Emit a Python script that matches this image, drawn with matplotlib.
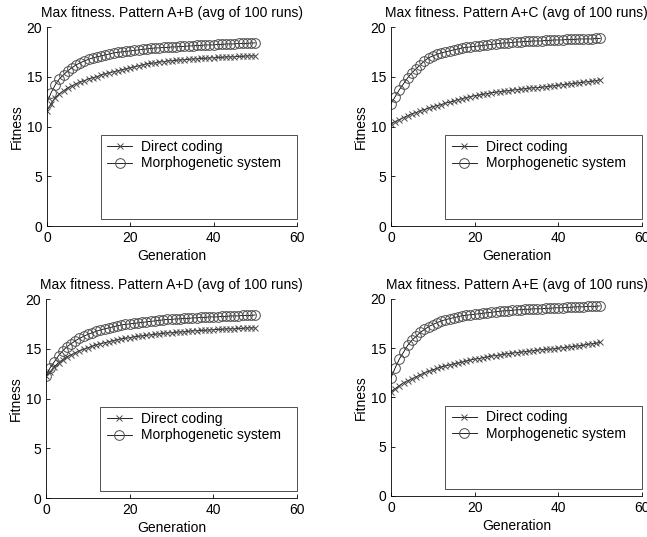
import numpy as np
import matplotlib
matplotlib.use('Agg')
import matplotlib.pyplot as plt
from matplotlib.patches import Rectangle

plt.rcParams['font.family'] = ['Liberation Sans', 'DejaVu Sans']

generations = list(range(51))

# Pattern A+B
ab_direct = [11.6, 12.3, 12.9, 13.3, 13.6, 13.9, 14.1, 14.3, 14.5, 14.6,
             14.8, 14.9, 15.0, 15.2, 15.3, 15.4, 15.5, 15.6, 15.7, 15.8,
             15.9, 16.0, 16.1, 16.2, 16.3, 16.35, 16.4, 16.5, 16.5, 16.6,
             16.6, 16.65, 16.7, 16.7, 16.75, 16.8, 16.8, 16.85, 16.85, 16.9,
             16.9, 16.95, 16.95, 17.0, 17.0, 17.0, 17.05, 17.05, 17.1, 17.1, 17.1]
ab_morph = [12.4, 13.4, 14.2, 14.8, 15.2, 15.6, 15.9, 16.2, 16.4, 16.6,
            16.75, 16.9, 17.0, 17.1, 17.2, 17.3, 17.4, 17.45, 17.5, 17.55,
            17.6, 17.65, 17.7, 17.75, 17.8, 17.85, 17.9, 17.9, 17.95, 17.95,
            18.0, 18.0, 18.05, 18.05, 18.1, 18.1, 18.15, 18.15, 18.2, 18.2,
            18.2, 18.25, 18.25, 18.3, 18.3, 18.3, 18.35, 18.35, 18.35, 18.4, 18.4]

# Pattern A+C
ac_direct = [10.3, 10.5, 10.7, 10.9, 11.1, 11.3, 11.4, 11.6, 11.7, 11.85,
             12.0, 12.1, 12.2, 12.35, 12.45, 12.55, 12.7, 12.8, 12.9, 13.0,
             13.1, 13.15, 13.25, 13.3, 13.4, 13.45, 13.5, 13.55, 13.6, 13.65,
             13.7, 13.75, 13.8, 13.85, 13.9, 13.9, 13.95, 14.0, 14.05, 14.1,
             14.15, 14.2, 14.25, 14.3, 14.35, 14.4, 14.45, 14.5, 14.55, 14.6, 14.7]
ac_morph = [12.3, 13.0, 13.7, 14.3, 14.9, 15.4, 15.8, 16.2, 16.6, 16.9,
            17.1, 17.25, 17.4, 17.5, 17.6, 17.7, 17.8, 17.9, 17.95, 18.0,
            18.05, 18.1, 18.15, 18.2, 18.25, 18.3, 18.35, 18.4, 18.4, 18.45,
            18.5, 18.5, 18.55, 18.55, 18.6, 18.6, 18.6, 18.65, 18.65, 18.7,
            18.7, 18.7, 18.75, 18.75, 18.75, 18.8, 18.8, 18.8, 18.8, 18.85, 18.85]

# Pattern A+D
ad_direct = [12.3, 12.7, 13.2, 13.6, 13.9, 14.2, 14.4, 14.6, 14.8, 14.95,
             15.1, 15.25, 15.4, 15.5, 15.6, 15.7, 15.8, 15.9, 16.0, 16.05,
             16.1, 16.2, 16.25, 16.3, 16.35, 16.4, 16.45, 16.5, 16.55, 16.6,
             16.6, 16.65, 16.7, 16.7, 16.75, 16.8, 16.8, 16.85, 16.85, 16.9,
             16.9, 16.95, 16.95, 17.0, 17.0, 17.0, 17.05, 17.05, 17.1, 17.1, 17.1]
ad_morph = [12.3, 13.1, 13.7, 14.3, 14.8, 15.2, 15.5, 15.8, 16.05, 16.25,
            16.45, 16.6, 16.75, 16.9, 17.0, 17.1, 17.2, 17.3, 17.4, 17.45,
            17.5, 17.55, 17.6, 17.65, 17.7, 17.75, 17.8, 17.85, 17.9, 17.95,
            17.95, 18.0, 18.0, 18.05, 18.05, 18.1, 18.1, 18.15, 18.15, 18.2,
            18.2, 18.2, 18.25, 18.25, 18.3, 18.3, 18.3, 18.35, 18.35, 18.35, 18.4]

# Pattern A+E
ae_direct = [10.6, 10.9, 11.2, 11.5, 11.7, 11.9, 12.1, 12.3, 12.5, 12.65,
             12.8, 12.95, 13.1, 13.2, 13.3, 13.4, 13.5, 13.6, 13.7, 13.8,
             13.9, 13.95, 14.05, 14.1, 14.2, 14.25, 14.3, 14.4, 14.45, 14.5,
             14.55, 14.6, 14.65, 14.7, 14.75, 14.8, 14.85, 14.9, 14.9, 14.95,
             15.0, 15.05, 15.1, 15.15, 15.2, 15.25, 15.3, 15.4, 15.45, 15.5, 15.6]
ae_morph = [12.0, 13.0, 13.9, 14.6, 15.3, 15.8, 16.2, 16.6, 16.9, 17.2,
            17.4, 17.6, 17.75, 17.9, 18.0, 18.1, 18.2, 18.3, 18.35, 18.4,
            18.45, 18.5, 18.55, 18.6, 18.65, 18.7, 18.75, 18.8, 18.8, 18.85,
            18.9, 18.9, 18.95, 18.95, 19.0, 19.0, 19.0, 19.05, 19.05, 19.1,
            19.1, 19.1, 19.15, 19.15, 19.2, 19.2, 19.2, 19.25, 19.25, 19.25, 19.3]

patterns = ['A+B', 'A+C', 'A+D', 'A+E']
direct_series = [ab_direct, ac_direct, ad_direct, ae_direct]
morph_series = [ab_morph, ac_morph, ad_morph, ae_morph]

# axes rectangles in figure fractions (left, bottom, width, height)
positions = [(0.0726, 0.5791, 0.3864, 0.3706),
             (0.6043, 0.5791, 0.3880, 0.3706),
             (0.0711, 0.0726, 0.3880, 0.3706),
             (0.6043, 0.0764, 0.3880, 0.3669)]

fig = plt.figure(figsize=(6.47, 5.37), dpi=100)

for i in range(4):
    ax = fig.add_axes(positions[i])
    ax.plot(generations, direct_series[i], color='black', linewidth=0.6,
            marker='x', markersize=5, markeredgecolor='0.3', markeredgewidth=0.7,
            label='Direct coding')
    ax.plot(generations, morph_series[i], color='black', linewidth=0.6,
            marker='o', markersize=7, markerfacecolor='none', markeredgecolor='0.3',
            markeredgewidth=0.7, label='Morphogenetic system')
    ax.set_xlim(0, 60)
    ax.set_ylim(0, 20)
    ax.set_xticks([0, 20, 40, 60])
    ax.set_yticks([0, 5, 10, 15, 20])
    ax.spines['top'].set_visible(False)
    ax.spines['right'].set_visible(False)
    ax.spines['left'].set_linewidth(0.6)
    ax.spines['bottom'].set_linewidth(0.6)
    ax.tick_params(direction='in', length=3, width=0.6, labelsize=10, pad=3.5)
    ax.set_title(f'Max fitness. Pattern {patterns[i]} (avg of 100 runs)',
                 fontsize=10, pad=7)
    ax.set_xlabel('Generation', fontsize=10, labelpad=3)
    ax.set_ylabel('Fitness', fontsize=10, labelpad=2)

    # big legend box like the original
    ax.add_patch(Rectangle((0.217, 0.035), 0.783, 0.422, transform=ax.transAxes,
                           fill=False, edgecolor='0.2', linewidth=0.6,
                           clip_on=False))
    ax.legend(loc='upper left', bbox_to_anchor=(0.225, 0.455), frameon=False,
              fontsize=10, handlelength=1.8, handletextpad=0.65,
              labelspacing=0.2, borderpad=0.3, borderaxespad=0)

fig.savefig('out.png', dpi=100)
